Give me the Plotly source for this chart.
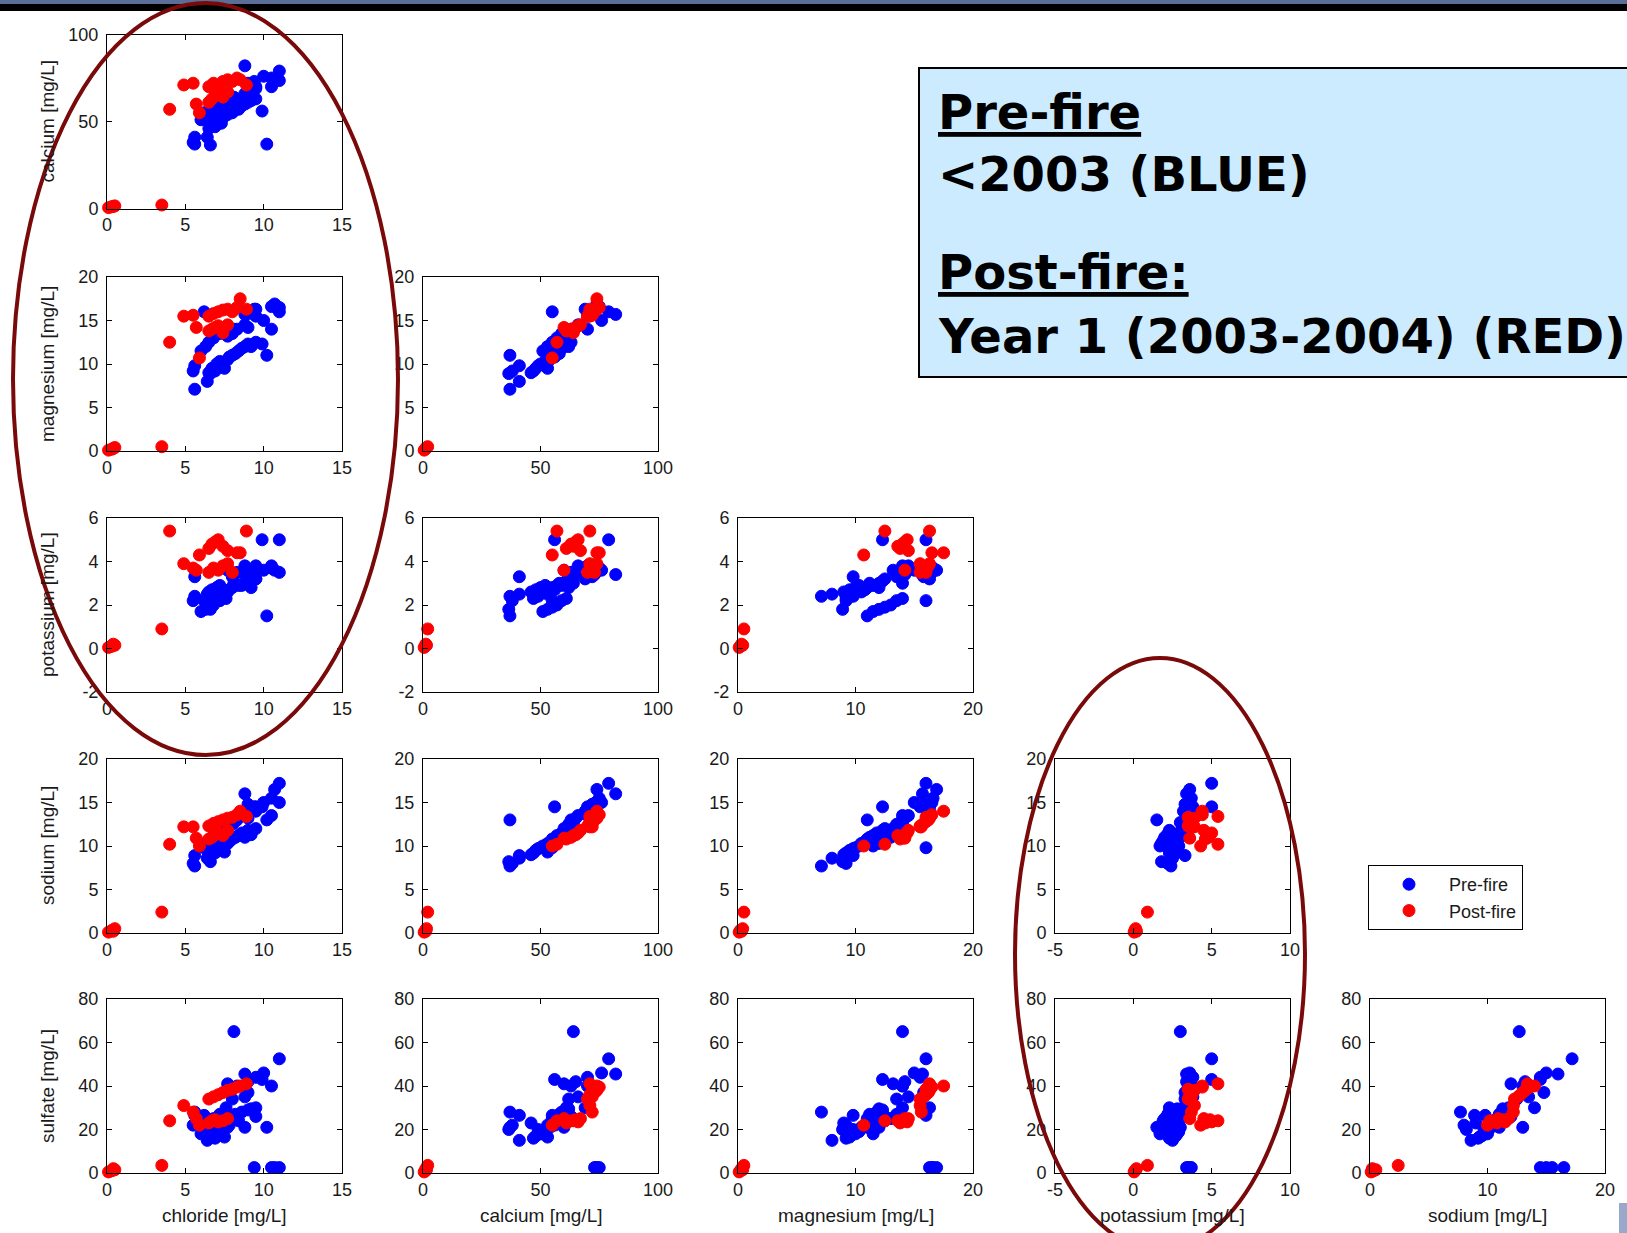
import plotly.graph_objects as go

# ---------------- data (mg/L) ----------------
variables = ["chloride", "calcium", "magnesium", "potassium", "sodium", "sulfate"]
axis_titles = ["chloride [mg/L]", "calcium [mg/L]", "magnesium [mg/L]",
               "potassium [mg/L]", "sodium [mg/L]", "sulfate [mg/L]"]

# Pre-fire samples (<2003)
pre_chloride = [5.6, 6.6, 5.6, 6.4, 5.5, 10.2, 6.5, 6.7, 7.0, 7.2, 7.5, 7.7, 7.8, 8.0, 8.2, 8.4, 8.6,
                8.8, 9.0, 9.2, 9.5, 7.3, 6.9, 6.0, 6.3, 6.5, 6.8, 7.2, 7.6, 8.0, 8.3, 9.0, 8.8, 7.7,
                9.5, 10.0, 8.8, 9.0, 9.5, 10.5, 9.4, 10.5, 10.7, 11.0, 11.0, 9.9, 8.1, 6.2]
pre_calcium = [37, 36.5, 41, 41, 38, 37, 46, 48, 50, 52, 53, 54, 56, 55, 58, 57, 59,
               60, 61, 62, 63, 49, 47, 51, 53, 55, 57, 59, 61, 62, 63, 65, 66, 60,
               70, 76, 82, 72, 69, 70, 73, 75, 74, 73.5, 79, 56, 64, 55]
pre_magnesium = [7.1, 8.9, 9.8, 8.0, 9.2, 11.0, 9.0, 9.5, 10.0, 10.3, 9.5, 10.5, 10.8, 11.0, 11.2, 11.5, 11.8,
                 12.0, 12.3, 12.0, 12.5, 9.8, 9.2, 11.5, 12.0, 12.5, 13.0, 13.5, 14.0, 13.5, 14.0, 14.2, 14.5, 13.2,
                 15.5, 15.0, 15.7, 15.8, 16.3, 14.0, 16.3, 16.6, 16.9, 16.5, 16.0, 12.3, 14.0, 16.0]
pre_potassium = [2.4, 1.8, 3.3, 2.5, 2.2, 1.5, 2.6, 2.7, 2.8, 2.9, 2.5, 2.6, 2.7, 2.8, 3.0, 2.9, 2.9,
                 3.0, 3.1, 2.8, 3.2, 2.4, 2.3, 1.7, 1.8, 1.9, 2.0, 2.2, 2.3, 3.3, 3.5, 3.4, 3.8, 3.6,
                 3.8, 3.6, 3.4, 3.3, 3.2, 3.8, 3.4, 3.7, 3.6, 3.5, 5.0, 5.0, 3.0, 2.2]
pre_sodium = [7.7, 8.2, 8.9, 8.6, 8.0, 13.0, 9.0, 9.5, 9.8, 10.0, 9.3, 10.3, 10.5, 10.8, 11.0, 11.2, 11.5,
              11.0, 11.8, 11.3, 12.0, 9.7, 9.2, 10.0, 10.3, 10.6, 11.0, 11.4, 11.8, 12.5, 13.0, 13.2, 13.5, 12.0,
              14.5, 15.0, 16.0, 14.8, 14.0, 13.5, 14.5, 15.5, 16.5, 15.0, 17.2, 14.5, 12.7, 9.8]
pre_sulfate = [28, 20, 26.5, 15, 22, 21, 23, 17, 18, 19, 16.5, 21, 22, 25, 27, 24, 28,
               21, 29, 29.5, 26, 20, 16, 18, 22, 24, 25, 27, 30, 34, 40, 42, 35, 41,
               44, 46, 45.5, 37, 30, 40, 2.5, 2.5, 2.5, 2.5, 52.5, 43, 65, 26.5]

# Post-fire samples, year 1 (2003-2004)
post_chloride = [0.1, 0.3, 0.5, 0.4, 3.5, 4.0, 4.9, 5.5, 5.7, 5.9, 6.5, 6.7, 6.9, 7.1, 7.4, 7.7,
                 6.5, 6.8, 7.1, 7.4, 7.7, 8.0, 8.3, 8.5, 8.9]
post_calcium = [0.5, 1.0, 1.5, 1.2, 2.0, 57, 71, 72, 60, 55, 61, 63, 65, 66, 64, 67,
                70, 72, 71, 73, 74, 73, 75, 74, 71]
post_magnesium = [0.1, 0.2, 0.4, 0.3, 0.5, 12.5, 15.5, 15.6, 14.2, 10.7, 13.8, 14.0, 14.2, 14.4, 13.6, 14.5,
                  15.5, 15.8, 16.0, 16.2, 16.3, 16.0, 16.5, 17.5, 16.3]
post_potassium = [0.05, 0.1, 0.15, 0.2, 0.9, 5.4, 3.9, 3.7, 3.6, 4.3, 4.6, 4.8, 4.9, 5.0, 4.7, 4.5,
                  3.5, 3.7, 3.6, 3.8, 3.9, 3.5, 4.4, 4.4, 5.4]
post_sodium = [0.1, 0.3, 0.5, 0.2, 2.4, 10.2, 12.2, 12.2, 10.9, 10.0, 10.8, 11.0, 11.3, 11.5, 11.2, 11.8,
               12.3, 12.6, 12.8, 13.0, 13.2, 13.3, 13.6, 14.0, 13.4]
post_sulfate = [0.5, 1.0, 1.5, 2.0, 3.5, 24, 31, 28, 25, 22, 23, 24, 24.5, 23.5, 24, 25,
                34, 35, 36, 37, 38, 38.5, 39.5, 40, 41]

x_ranges = [[0, 15], [0, 100], [0, 20], [-5, 10], [0, 20]]
x_ticks = [[0, 5, 10, 15], [0, 50, 100], [0, 10, 20], [-5, 0, 5, 10], [0, 10, 20]]
x_tick_labels = [["0", "5", "10", "15"], ["0", "50", "100"], ["0", "10", "20"],
                 ["-5", "0", "5", "10"], ["0", "10", "20"]]
y_ranges = [[0, 100], [0, 20], [-2, 6], [0, 20], [0, 80]]
y_ticks = [[0, 50, 100], [0, 5, 10, 15, 20], [-2, 0, 2, 4, 6], [0, 5, 10, 15, 20], [0, 20, 40, 60, 80]]
y_tick_labels = [["0", "50", "100"], ["0", "5", "10", "15", "20"], ["-2", "0", "2", "4", "6"],
                 ["0", "5", "10", "15", "20"], ["0", "20", "40", "60", "80"]]

pre = dict(zip(variables, [pre_chloride, pre_calcium, pre_magnesium, pre_potassium, pre_sodium, pre_sulfate]))
post = dict(zip(variables, [post_chloride, post_calcium, post_magnesium, post_potassium, post_sodium, post_sulfate]))

# ---------------- layout geometry (pixels) ----------------
W, H = 1627, 1233
col_left = [107, 423, 738, 1055, 1370]
col_w = 235
row_top = [34.5, 277, 518, 759, 999]
row_h = 174


def px(xp):
    return xp / W


def py(yp):
    return 1 - yp / H


TICK_FONT = dict(family="Liberation Sans, Arial, sans-serif", size=18, color="#1a1a1a")
TITLE_FONT = dict(family="Liberation Sans, Arial, sans-serif", size=19, color="#1a1a1a")

fig = go.Figure()
layout = {}
annotations = []
k = 0
for r in range(5):
    for c in range(r + 1):
        k += 1
        sfx = "" if k == 1 else str(k)
        xv = variables[c]
        yv = variables[r + 1]
        x0 = col_left[c]
        y0 = row_top[r]
        axis_common = dict(showline=True, linecolor="black", linewidth=1, mirror="ticks",
                           ticks="inside", ticklen=5, tickcolor="black", tickwidth=1,
                           showgrid=False, zeroline=False, tickfont=TICK_FONT,
                           fixedrange=True, automargin=False)
        layout["xaxis" + sfx] = dict(domain=[px(x0), px(x0 + col_w)], anchor="y" + sfx,
                                     range=x_ranges[c], tickvals=x_ticks[c],
                                     ticktext=x_tick_labels[c], ticklabelstandoff=0, **axis_common)
        layout["yaxis" + sfx] = dict(domain=[py(y0 + row_h), py(y0)], anchor="x" + sfx,
                                     range=y_ranges[r], tickvals=y_ticks[r],
                                     ticktext=y_tick_labels[r], ticklabelstandoff=4, **axis_common)
        fig.add_trace(go.Scatter(x=pre[xv], y=pre[yv], xaxis="x" + sfx, yaxis="y" + sfx,
                                 mode="markers", name="Pre-fire", legendgroup="pre",
                                 showlegend=(k == 1), cliponaxis=False,
                                 marker=dict(color="#0000FF", size=12,
                                             line=dict(color="#0000FF", width=1))))
        fig.add_trace(go.Scatter(x=post[xv], y=post[yv], xaxis="x" + sfx, yaxis="y" + sfx,
                                 mode="markers", name="Post-fire", legendgroup="post",
                                 showlegend=(k == 1), cliponaxis=False,
                                 marker=dict(color="#FF0000", size=12,
                                             line=dict(color="#FF0000", width=1))))
        if c == 0:
            annotations.append(dict(text=axis_titles[r + 1], x=px(47), y=py(y0 + row_h / 2),
                                    xref="paper", yref="paper", textangle=-90, showarrow=False,
                                    xanchor="center", yanchor="middle", font=TITLE_FONT))
        if r == 4:
            annotations.append(dict(text=axis_titles[c], x=px(x0 + col_w / 2), y=py(1215),
                                    xref="paper", yref="paper", showarrow=False,
                                    xanchor="center", yanchor="middle", font=TITLE_FONT))

# info box text
BOX_FONT = dict(family="DejaVu Sans", size=48, color="black")
box_lines = [("<u>Pre-fire</u>", 112), ("&lt;2003 (BLUE)", 174),
             ("<u>Post-fire:</u>", 272), ("Year 1 (2003-2004) (RED)", 336)]
for txt, yc in box_lines:
    annotations.append(dict(text="<b>" + txt + "</b>", x=px(936), y=py(yc), xref="paper", yref="paper",
                            showarrow=False, xanchor="left", yanchor="middle", font=BOX_FONT))

shapes = [
    # top banner
    dict(type="rect", xref="paper", yref="paper", x0=0, x1=1, y0=py(4), y1=1,
         fillcolor="#5B6E98", line=dict(width=0), layer="above"),
    dict(type="rect", xref="paper", yref="paper", x0=0, x1=1, y0=py(11), y1=py(4),
         fillcolor="#000000", line=dict(width=0), layer="above"),
    # info box
    dict(type="rect", xref="paper", yref="paper", x0=px(919), x1=px(1700), y0=py(377), y1=py(68),
         fillcolor="#CCEBFF", line=dict(color="black", width=2), layer="below"),
    # highlight ellipses
    dict(type="circle", xref="paper", yref="paper", x0=px(13), x1=px(398), y0=py(755), y1=py(3),
         line=dict(color="#7A0A0A", width=4), layer="above"),
    dict(type="circle", xref="paper", yref="paper", x0=px(1015), x1=px(1305), y0=py(1250), y1=py(658),
         line=dict(color="#7A0A0A", width=4), layer="above"),
    # corner fragment of slide graphic
    dict(type="rect", xref="paper", yref="paper", x0=px(1619), x1=1, y0=0, y1=py(1203),
         fillcolor="#9AA9C9", line=dict(width=0), layer="above"),
]

fig.update_layout(
    width=W, height=H, margin=dict(l=0, r=0, t=0, b=0, pad=0, autoexpand=False),
    paper_bgcolor="white", plot_bgcolor="white",
    showlegend=True,
    legend=dict(x=px(1368), y=py(865), xanchor="left", yanchor="top",
                bgcolor="white", bordercolor="black", borderwidth=1,
                font=dict(family="Liberation Sans, Arial, sans-serif", size=18, color="#1a1a1a"),
                itemwidth=70, traceorder="grouped", tracegroupgap=0),
    annotations=annotations, shapes=shapes,
    **layout,
)

fig.write_html("out.html", config={"displayModeBar": False},
               post_script="document.body.style.margin='0px';document.documentElement.style.overflow='hidden';document.body.style.overflow='hidden';")
